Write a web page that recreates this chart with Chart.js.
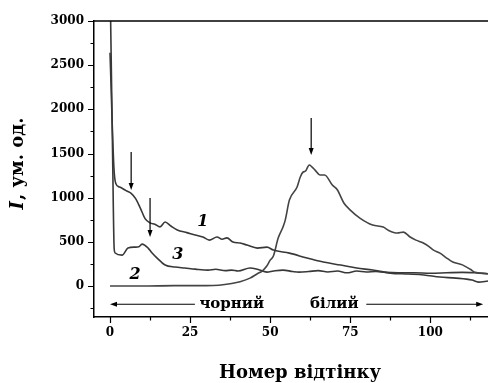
<!DOCTYPE html>
<html><head><meta charset="utf-8">
<script src="https://cdn.jsdelivr.net/npm/chart.js@4.4.1/dist/chart.umd.min.js"></script>
<style>html,body{margin:0;padding:0;background:#fff}</style>
</head><body>
<canvas id="c" width="488" height="383"></canvas>
<script>
// ---- data ----
const x1 = [0,1.2,1.8,3,5,6.6,8,9.5,11,12.5,14,15.6,17.2,19,21,24,26.6,29,31,33.4,35,36.5,38.4,40.6,42.8,46,49,51,56,61.5,66.6,72,77,82,87.5,93,98,103,108,113,115,118];
const y1 = [2640,1350,1160,1120,1080,1050,990,880,760,715,700,670,725,680,635,605,577,555,520,555,530,545,498,487,464,430,441,407,373,317,272,238,204,181,147,136,125,102,90,68,45,57];
const x2 = [0,10,20,30,34,38,40.6,43.7,46,47.5,49,50,51,52.5,54,54.7,56,58.4,59.4,60.3,61,62.2,63,64,65.6,67,69.4,71,73,75,78,82,85.3,87,89.7,91.6,93.7,95.5,97.8,99.5,101,103,105,107,110,112.5,114,118];
const y2 = [0,0,5,5,10,30,50,90,140,170,230,294,340,543,668,747,974,1121,1234,1291,1300,1370,1350,1313,1257,1257,1143,1087,940,860,770,690,668,630,600,611,555,520,487,450,407,373,320,272,240,190,155,140];
const x3 = [0,0.8,1.3,1.6,3.75,5.6,7.8,9,10,11.9,13,14.7,17.2,20.3,23.4,26.6,30.6,33,36,38,40,43.7,46,49,51,54,57,59,62,65,68,71,74,77,80,83,86,90,95,100,105,110,114,118];
const y3 = [3500,1500,420,374,350,430,441,445,475,430,380,317,238,215,204,192,181,190,175,181,170,204,190,158,170,181,165,158,165,175,160,170,150,170,160,165,155,150,150,145,150,155,150,140];
const xTicks = [0,25,50,75,100];
const yTicks = [0,500,1000,1500,2000,2500,3000];
const xMinor = [12.5,37.5,62.5,87.5,112.5];
const yMinor = [-250,250,750,1250,1750,2250,2750];
const xRange = [-5,118];
const yRange = [-350,3000];
const curveLabels = [{t:'1',x:29,y:725},{t:'3',x:21.2,y:350},{t:'2',x:7.8,y:125}];
const arrowsDown = [{x:6.6,from:1517,to:1087},{x:12.5,from:996,to:555},{x:62.8,from:1902,to:1483}];
const bandLabels = [{t:'чорний',x:38,y:-200,arrowFrom:26.5,arrowTo:0},{t:'білий',x:70,y:-200,arrowFrom:80,arrowTo:116.5}];
const xTitle = 'Номер відтінку';
const yTitleItalic = 'I';
const yTitleRest = ', ум. од.';

const toPts = (xs, ys) => xs.map((v,i)=>({x:v,y:ys[i]}));
const SERIF = '"DejaVu Serif", "Liberation Serif", serif';
const lineStyle = (c)=>({borderColor:c,borderWidth:1.6,pointRadius:0,fill:false,cubicInterpolationMode:'monotone'});

const deco = {
  id:'deco',
  afterDraw(chart){
    const {ctx, chartArea:a, scales:{x,y}} = chart;
    ctx.save();
    ctx.strokeStyle='#000'; ctx.fillStyle='#000';
    ctx.lineWidth=1.5;
    ctx.beginPath(); ctx.moveTo(a.left,a.top); ctx.lineTo(a.right,a.top); ctx.stroke();
    ctx.lineWidth=1.2;
    ctx.beginPath();
    yTicks.forEach(v=>{const p=Math.round(y.getPixelForValue(v))+0.5; ctx.moveTo(a.left-6,p); ctx.lineTo(a.left,p);});
    yMinor.forEach(v=>{const p=Math.round(y.getPixelForValue(v))+0.5; ctx.moveTo(a.left-3.5,p); ctx.lineTo(a.left,p);});
    xTicks.forEach(v=>{const p=Math.round(x.getPixelForValue(v))+0.5; ctx.moveTo(p,a.bottom); ctx.lineTo(p,a.bottom+6);});
    xMinor.forEach(v=>{const p=Math.round(x.getPixelForValue(v))+0.5; ctx.moveTo(p,a.bottom); ctx.lineTo(p,a.bottom+3.5);});
    ctx.stroke();
    ctx.lineWidth=1.2;
    arrowsDown.forEach(ar=>{
      const px=x.getPixelForValue(ar.x), y0=y.getPixelForValue(ar.from), y1p=y.getPixelForValue(ar.to);
      ctx.beginPath(); ctx.moveTo(px,y0); ctx.lineTo(px,y1p-5); ctx.stroke();
      ctx.beginPath(); ctx.moveTo(px,y1p); ctx.lineTo(px-2.5,y1p-7); ctx.lineTo(px+2.5,y1p-7); ctx.closePath(); ctx.fill();
    });
    ctx.font='bold 15px '+SERIF; ctx.textAlign='center'; ctx.textBaseline='middle';
    bandLabels.forEach(b=>{
      const py=y.getPixelForValue(b.y);
      ctx.fillText(b.t, x.getPixelForValue(b.x), py);
      const xa=x.getPixelForValue(b.arrowFrom), xb=x.getPixelForValue(b.arrowTo);
      const dir = xb>xa?1:-1;
      ctx.beginPath(); ctx.moveTo(xa,py+0.5); ctx.lineTo(xb-dir*5,py+0.5); ctx.stroke();
      ctx.beginPath(); ctx.moveTo(xb,py+0.5); ctx.lineTo(xb-dir*7,py-2); ctx.lineTo(xb-dir*7,py+3); ctx.closePath(); ctx.fill();
    });
    ctx.font='italic bold 16px '+SERIF;
    curveLabels.forEach(l=>ctx.fillText(l.t, x.getPixelForValue(l.x), y.getPixelForValue(l.y)));
    ctx.font='bold 18px '+SERIF;
    ctx.fillText(xTitle, 300, 373);
    ctx.translate(18,164); ctx.rotate(-Math.PI/2);
    ctx.font='italic bold 18px '+SERIF; const w1=ctx.measureText(yTitleItalic).width;
    ctx.font='bold 18px '+SERIF; const w2=ctx.measureText(yTitleRest).width;
    const sx=-(w1+w2)/2;
    ctx.textAlign='left';
    ctx.font='italic bold 18px '+SERIF; ctx.fillText(yTitleItalic, sx, 0);
    ctx.font='bold 18px '+SERIF; ctx.fillText(yTitleRest, sx+w1+1, 0);
    ctx.restore();
  }
};

new Chart(document.getElementById('c'), {
  type:'line',
  data:{datasets:[
    Object.assign({label:'1',data:toPts(x1,y1)}, lineStyle('#383838')),
    Object.assign({label:'2',data:toPts(x2,y2)}, lineStyle('#444444')),
    Object.assign({label:'3',data:toPts(x3,y3)}, lineStyle('#383838'))
  ]},
  options:{
    responsive:false, animation:false,
    layout:{padding:{top:21,right:0,left:0,bottom:0}},
    plugins:{legend:{display:false},tooltip:{enabled:false}},
    scales:{
      x:{type:'linear',min:xRange[0],max:xRange[1],
        afterBuildTicks:s=>{s.ticks=xTicks.map(v=>({value:v}));},
        afterFit:s=>{s.height=66;},
        grid:{display:false,drawTicks:false},
        border:{display:true,color:'#000',width:1.5},
        ticks:{padding:9,color:'#000',font:{family:SERIF,weight:'bold',size:12},maxRotation:0,callback:v=>String(v)}},
      y:{type:'linear',min:yRange[0],max:yRange[1],
        afterBuildTicks:s=>{s.ticks=yTicks.map(v=>({value:v}));},
        afterFit:s=>{s.width=94;},
        grid:{display:false,drawTicks:false},
        border:{display:true,color:'#000',width:1.5},
        ticks:{padding:10,color:'#000',font:{family:SERIF,weight:'bold',size:12},callback:v=>String(v)}}
    }
  },
  plugins:[deco]
});
</script>
</body></html>
